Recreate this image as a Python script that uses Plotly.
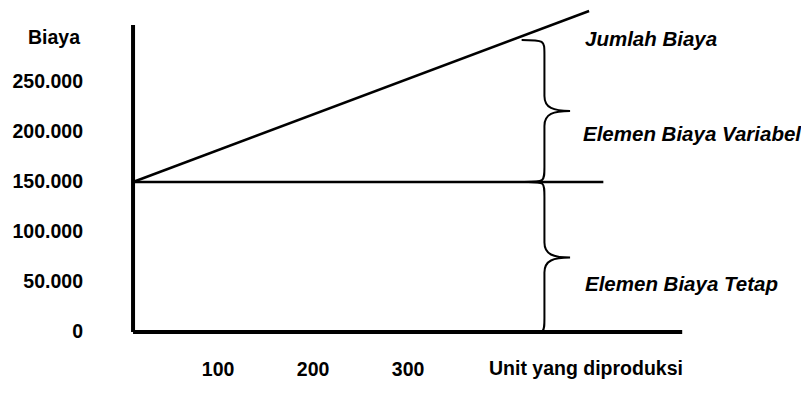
import plotly.graph_objects as go

# ---- data ----
UNITS_TOTAL = [0, 480]
TOTAL_COST = [150000, 321000]
UNITS_FIXED = [0, 495]
FIXED_COST = [150000, 150000]

Y_TICK_VALUES = [0, 50000, 100000, 150000, 200000, 250000]
Y_TICK_LABELS = ["0", "50.000", "100.000", "150.000", "200.000", "250.000"]
X_TICK_VALUES = [100, 200, 300]
X_TICK_LABELS = ["100", "200", "300"]

Y_TITLE = "Biaya"
X_TITLE = "Unit yang diproduksi"
LABEL_TOTAL = "Jumlah Biaya"
LABEL_VARIABLE = "Elemen Biaya Variabel"
LABEL_FIXED = "Elemen Biaya Tetap"

# ---- layout constants ----
FONT = "Liberation Sans, Arial, Helvetica, sans-serif"
FS = 19.5
FS_LABEL = 20.5
X_MIN, X_MAX = -5.3, 582
Y_MIN, Y_MAX = -5000, 324000
X_AXIS_END = 578
Y_AXIS_TOP = 307000

BRACE_X_END = 410
BRACE_X_MID = 433
BRACE_X_TIP = 460
BRACE_R = 15000


def interp(x, xs, ys):
    return ys[0] + (ys[1] - ys[0]) * (x - xs[0]) / (xs[1] - xs[0])


def brace_path(x_end_top, x_end_bot, x_mid, x_tip, y_top, y_bot, r):
    yc = (y_top + y_bot) / 2
    k = 0.35 * (x_tip - x_mid)
    return (
        f"M {x_end_top},{y_top} "
        f"C {x_mid},{y_top} {x_mid},{y_top} {x_mid},{y_top - r} "
        f"L {x_mid},{yc + r} "
        f"C {x_mid},{yc + r * 0.2} {x_mid + k},{yc} {x_tip},{yc} "
        f"C {x_mid + k},{yc} {x_mid},{yc - r * 0.2} {x_mid},{yc - r} "
        f"L {x_mid},{y_bot + r} "
        f"C {x_mid},{y_bot} {x_mid},{y_bot} {x_end_bot},{y_bot}"
    )


fig = go.Figure()
fig.add_trace(go.Scatter(x=UNITS_TOTAL, y=TOTAL_COST, mode="lines",
                         line=dict(color="black", width=2.5), hoverinfo="skip"))
fig.add_trace(go.Scatter(x=UNITS_FIXED, y=FIXED_COST, mode="lines",
                         line=dict(color="black", width=2.5), hoverinfo="skip"))

# axes lines
fig.add_shape(type="line", x0=0, x1=0, y0=0, y1=Y_AXIS_TOP, xref="x", yref="y",
              line=dict(color="black", width=4))
fig.add_shape(type="line", x0=0, x1=X_AXIS_END, y0=0, y1=0, xref="x", yref="y",
              line=dict(color="black", width=4))

# braces
top_upper = interp(BRACE_X_END, UNITS_TOTAL, TOTAL_COST) - 4000
fig.add_shape(type="path", xref="x", yref="y",
              path=brace_path(BRACE_X_END - 1, BRACE_X_END + 2, BRACE_X_MID, BRACE_X_TIP,
                              top_upper, FIXED_COST[0], BRACE_R),
              line=dict(color="black", width=2))
fig.add_shape(type="path", xref="x", yref="y",
              path=brace_path(BRACE_X_END + 6, BRACE_X_END + 6, BRACE_X_MID, BRACE_X_TIP,
                              FIXED_COST[0], -1000, BRACE_R),
              line=dict(color="black", width=2))

label_font = dict(family=FONT, size=FS_LABEL, color="black", weight="bold", style="italic")
fig.add_annotation(x=474, y=294000, xref="x", yref="y", text=LABEL_TOTAL,
                   showarrow=False, xanchor="left", yanchor="middle", font=label_font)
fig.add_annotation(x=472, y=199000, xref="x", yref="y", text=LABEL_VARIABLE,
                   showarrow=False, xanchor="left", yanchor="middle", font=label_font)
fig.add_annotation(x=474, y=49000, xref="x", yref="y", text=LABEL_FIXED,
                   showarrow=False, xanchor="left", yanchor="middle", font=label_font)

axis_font = dict(family=FONT, size=FS, color="black", weight="bold")
fig.add_annotation(x=0, y=295000, xref="paper", yref="y", text=Y_TITLE,
                   showarrow=False, xanchor="right", yanchor="middle",
                   xshift=-46, font=axis_font)
fig.add_annotation(x=373, y=0, xref="x", yref="y", text=X_TITLE,
                   showarrow=False, xanchor="left", yanchor="middle",
                   yshift=-36, font=axis_font)

fig.update_xaxes(range=[X_MIN, X_MAX], tickvals=X_TICK_VALUES, ticktext=X_TICK_LABELS,
                 showgrid=False, zeroline=False, showline=False, ticks="",
                 tickfont=axis_font, ticklabelstandoff=18, ticklabelshift=-10,
                 automargin=False)
fig.update_yaxes(range=[Y_MIN, Y_MAX], tickvals=Y_TICK_VALUES, ticktext=Y_TICK_LABELS,
                 showgrid=False, zeroline=False, showline=False, ticks="",
                 tickfont=axis_font, ticklabelstandoff=44, ticklabelshift=-1,
                 automargin=False)

fig.update_layout(width=801, height=385, showlegend=False,
                  margin=dict(l=120, r=123, t=0, b=56, autoexpand=False),
                  plot_bgcolor="white", paper_bgcolor="white")

fig.write_html("out.html")
